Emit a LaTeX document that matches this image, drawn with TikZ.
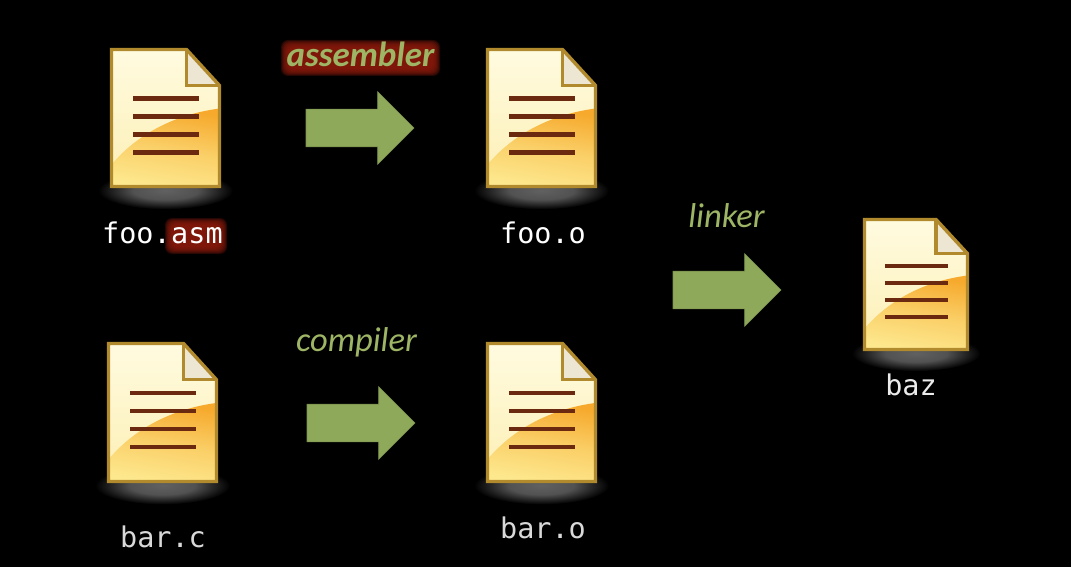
\documentclass[tikz,border=0pt]{standalone}
\usepackage{fontspec}
\setmainfont{Carlito}
\setmonofont{DejaVu Sans Mono}
\usetikzlibrary{shapes.arrows,calc}
\definecolor{arrowgreen}{HTML}{8FA95B}
\definecolor{labelgreen}{HTML}{9DB565}
\definecolor{docedge}{HTML}{B08A2C}
\definecolor{docline}{HTML}{6B2A10}
\definecolor{foldfill}{HTML}{EDE6D2}
\definecolor{haloRed}{HTML}{8A1A0C}
\definecolor{docTop}{HTML}{FFFBE0}
\definecolor{docMid}{HTML}{FCEFB4}
\definecolor{docBot}{HTML}{FDE88E}
\definecolor{docOrange}{HTML}{F6A92C}
\pgfdeclareradialshading{docglow}{\pgfpoint{0bp}{0bp}}{color(0bp)=(black!62);color(12bp)=(black!68);color(25bp)=(black)}
\tikzset{
  blockarrow/.style={single arrow,draw=arrowgreen!85!black,line width=0.6pt,fill=arrowgreen,
    minimum height=108pt,minimum width=0pt,single arrow head extend=17.5pt,
    single arrow tip angle=90,inner sep=0pt,outer sep=0pt,anchor=tail},
  toollabel/.style={font=\fontsize{34.5}{38}\selectfont\itshape,text=labelgreen,inner sep=0pt,anchor=base},
  filelabel/.style={font=\ttfamily\fontsize{28.5}{32}\selectfont,inner sep=0pt,anchor=base},
  docbar/.style={draw=docline,line width=4.4pt},
  docframe/.style={draw=docedge,line width=3.4pt,line join=miter}
}
\newcommand{\docicon}[5]{%
  \begin{scope}[shift={(#2,#3)},xscale=#4/108,yscale=#5/137]
    \node[name=#1,inner sep=0pt,minimum width=#4pt,minimum height=#5pt] at (54,68.5) {};
    \shade[shading=docglow,shift={(54,141)},xscale=2.7,yscale=0.75] (0,0) circle (25);
    \shade[top color=docTop,bottom color=docMid]
      (0,0) -- (75,0) -- (108,36) -- (108,137) -- (0,137) -- cycle;
    \begin{scope}
      \clip (0,0) -- (75,0) -- (108,36) -- (108,137) -- (0,137) -- cycle;
      \shade[top color=docOrange,bottom color=docBot,middle color=docOrange!40!docBot,shading angle=-10]
        (108,59) .. controls (70,64) and (30,80) .. (0,115) -- (0,137) -- (108,137) -- cycle;
    \end{scope}
    \fill[foldfill] (75,0) -- (75,36) -- (108,36) -- cycle;
    \draw[docframe] (0,0) -- (75,0) -- (108,36) -- (108,137) -- (0,137) -- cycle;
    \draw[docframe] (75,0) -- (75,36) -- (108,36);
    \foreach \yy in {49,67,85,103} \draw[docbar] (21.5,\yy) -- (87.5,\yy);
  \end{scope}}
\newcommand{\halobox}[4]{%
  \foreach \gr in {7,6,...,0}
    \fill[haloRed,fill opacity=0.28,rounded corners=7pt] ($(#1,#2)+(-\gr,-\gr)$) rectangle ($(#3,#4)+(\gr,\gr)$);}
\begin{document}
\begin{tikzpicture}[x=1pt,y=-1pt]
  \useasboundingbox[fill=black] (0,0) rectangle (1071,567);
  \docicon{fooasmdoc}{111.5}{49.5}{108}{137}
  \docicon{fooodoc}{487.5}{49.5}{108}{137}
  \docicon{barcdoc}{108.5}{343.5}{108}{138}
  \docicon{barodoc}{487.5}{343.5}{108}{138}
  \docicon{bazdoc}{864.5}{219.5}{103}{130}
  \halobox{172}{225}{220}{247}
  \halobox{288}{47}{433}{69}
  \node[blockarrow] (asmarrow) at (306,128) {\rule{0pt}{37pt}};
  \node[blockarrow] (ccarrow) at (307,423) {\rule{0pt}{37pt}};
  \node[blockarrow] (linkarrow) at (673,290) {\rule{0pt}{37pt}};
  \node[toollabel,font=\fontsize{35}{38}\selectfont\bfseries\itshape] (asmlabel) at (360.5,67) {assembler};
  \node[toollabel] (cclabel) at (356.5,351) {compiler};
  \node[toollabel] (linklabel) at (726.5,227) {linker};
  \node[filelabel,text=white,anchor=base east] (foolabel) at (171,243) {foo.};
  \node[filelabel,text=white,anchor=base west] (asmext) at (foolabel.base east) {asm};
  \node[filelabel,text=white] (foolab) at (543,243) {foo.o};
  \node[filelabel,text=white!85!black] (barclab) at (163,547) {bar.c};
  \node[filelabel,text=white!85!black] (barolab) at (543,538) {bar.o};
  \node[filelabel,text=white!92!black] (bazlab) at (911,395) {baz};
\end{tikzpicture}
\end{document}
